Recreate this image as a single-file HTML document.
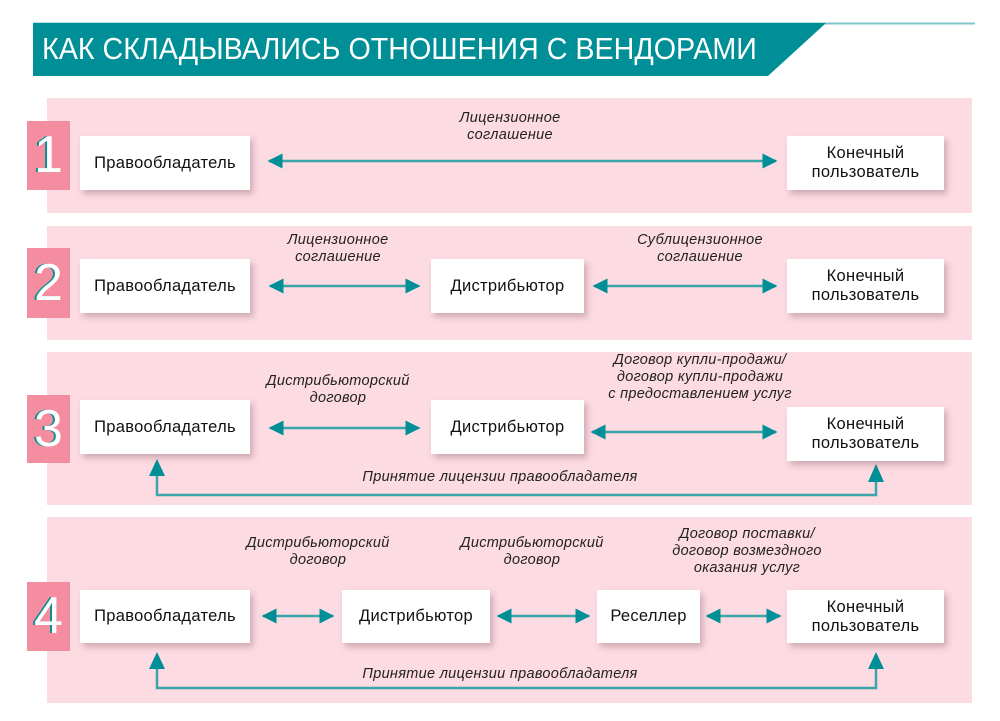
<!DOCTYPE html><html><head><meta charset="utf-8"><style>
body{margin:0;width:1000px;height:721px;background:#fff;position:relative;overflow:hidden;font-family:"Liberation Sans",sans-serif}
.a{position:absolute}
.panel{position:absolute;left:47px;width:925px;background:#fddbe2}
.num{position:absolute;left:27px;width:43px;background:#f58da0;color:#fff;font-size:52px;text-align:center;font-weight:300;text-shadow:-2px 0 #0a8f96}
.box{position:absolute;background:#fff;box-shadow:3px 4px 6px rgba(120,80,90,.35);display:flex;align-items:center;justify-content:center;text-align:center;font-size:16.5px;color:#111;line-height:19px;letter-spacing:0.3px}
.lbl{position:absolute;font-style:italic;font-size:14.5px;color:#222;text-align:center;line-height:17px;transform:translateX(-50%);white-space:nowrap;letter-spacing:0.3px}
</style></head><body>
<svg class="a" style="left:0;top:0" width="1000" height="721">
<line x1="33" y1="23.5" x2="975" y2="23.5" stroke="#7fc6c9" stroke-width="2"/>
<polygon points="33,23 826,23 768,76 33,76" fill="#008f96"/>
</svg>
<div class="a" style="left:42px;top:31px;color:#fff;font-size:31px;transform:scaleX(0.925);transform-origin:left;white-space:nowrap">КАК СКЛАДЫВАЛИСЬ ОТНОШЕНИЯ С ВЕНДОРАМИ</div>
<div class="panel" style="top:98px;height:115px"></div>
<div class="panel" style="top:226px;height:114px"></div>
<div class="panel" style="top:352px;height:153px"></div>
<div class="panel" style="top:517px;height:186px"></div>
<div class="num" style="top:121px;height:69px;line-height:69px">1</div>
<div class="num" style="top:248px;height:70px;line-height:70px">2</div>
<div class="num" style="top:395px;height:68px;line-height:68px">3</div>
<div class="num" style="top:582px;height:69px;line-height:69px">4</div>
<svg class="a" style="left:0;top:0" width="1000" height="721">
<defs><marker id="h" viewBox="0 0 10 10" refX="9" refY="5" markerWidth="6" markerHeight="6" orient="auto-start-reverse" markerUnits="strokeWidth"><path d="M0,0 L10,5 L0,10 z" fill="#008f96"/></marker></defs>
<g stroke="#3aa6ab" stroke-width="2.5" fill="none" marker-start="url(#h)" marker-end="url(#h)">
<line x1="269" y1="161" x2="776" y2="161"/>
<line x1="270" y1="286" x2="419" y2="286"/>
<line x1="594" y1="286" x2="776" y2="286"/>
<line x1="270" y1="428" x2="419" y2="428"/>
<line x1="592" y1="432" x2="776" y2="432"/>
<line x1="263" y1="616" x2="333" y2="616"/>
<line x1="498" y1="616" x2="589" y2="616"/>
<line x1="707" y1="616" x2="780" y2="616"/>
</g>
<g stroke="#3aa6ab" stroke-width="2.5" fill="none">
<polyline points="157,470 157,495 876,495 876,470"/>
<polyline points="157,662 157,688 876,688 876,662"/>
</g>
<g fill="#008f96">
<polygon points="149,476 165,476 157,459"/><polygon points="868,482 884,482 876,464"/>
<polygon points="149,669 165,669 157,652"/><polygon points="868,669 884,669 876,652"/>
</g>
</svg>
<div class="box" style="left:80px;top:136px;width:170px;height:54px">Правообладатель</div>
<div class="box" style="left:787px;top:136px;width:157px;height:54px">Конечный<br>пользователь</div>
<div class="box" style="left:80px;top:259px;width:170px;height:54px">Правообладатель</div>
<div class="box" style="left:431px;top:259px;width:153px;height:54px">Дистрибьютор</div>
<div class="box" style="left:787px;top:259px;width:157px;height:54px">Конечный<br>пользователь</div>
<div class="box" style="left:80px;top:400px;width:170px;height:54px">Правообладатель</div>
<div class="box" style="left:431px;top:400px;width:153px;height:54px">Дистрибьютор</div>
<div class="box" style="left:787px;top:407px;width:157px;height:54px">Конечный<br>пользователь</div>
<div class="box" style="left:80px;top:590px;width:170px;height:53px">Правообладатель</div>
<div class="box" style="left:342px;top:590px;width:148px;height:53px">Дистрибьютор</div>
<div class="box" style="left:597px;top:590px;width:103px;height:53px">Реселлер</div>
<div class="box" style="left:787px;top:590px;width:157px;height:53px">Конечный<br>пользователь</div>
<div class="lbl" style="left:510px;top:110px">Лицензионное<br>соглашение</div>
<div class="lbl" style="left:338px;top:232px">Лицензионное<br>соглашение</div>
<div class="lbl" style="left:700px;top:232px">Сублицензионное<br>соглашение</div>
<div class="lbl" style="left:338px;top:373px">Дистрибьюторский<br>договор</div>
<div class="lbl" style="left:700px;top:352px">Договор купли-продажи/<br>договор купли-продажи<br>с предоставлением услуг</div>
<div class="lbl" style="left:500px;top:469px">Принятие лицензии правообладателя</div>
<div class="lbl" style="left:318px;top:535px">Дистрибьюторский<br>договор</div>
<div class="lbl" style="left:532px;top:535px">Дистрибьюторский<br>договор</div>
<div class="lbl" style="left:747px;top:526px">Договор поставки/<br>договор возмездного<br>оказания услуг</div>
<div class="lbl" style="left:500px;top:666px">Принятие лицензии правообладателя</div>
</body></html>
